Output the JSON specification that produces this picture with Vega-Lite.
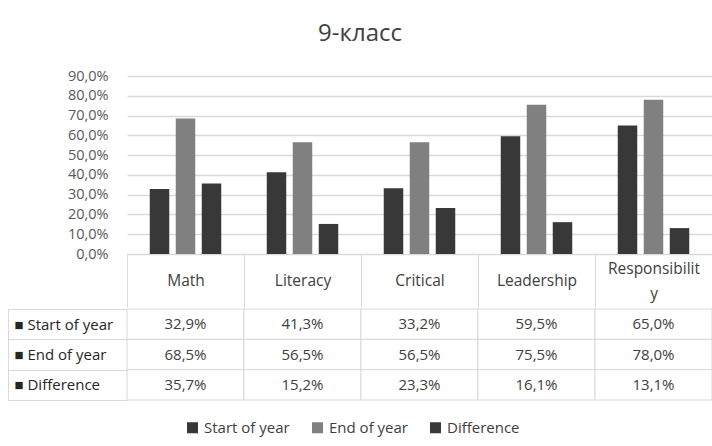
{
  "$schema": "https://vega.github.io/schema/vega-lite/v6.json",
  "padding": {"left": 7, "top": 22, "right": 1, "bottom": 5},
  "title": {"text": "9-класс", "fontSize": 24, "font": "Open Sans", "fontWeight": "normal", "color": "#404040", "anchor": "middle", "frame": "bounds", "offset": 22},
  "config": {
    "font": "Open Sans",
    "locale": {"number": {"decimal": ",", "thousands": " ", "grouping": [3], "currency": ["", ""]}},
    "view": {"stroke": null}
  },
  "data": {"values": [
    {"category": "Math", "series": "Start of year", "value": 0.329},
    {"category": "Math", "series": "End of year", "value": 0.685},
    {"category": "Math", "series": "Difference", "value": 0.357},
    {"category": "Literacy", "series": "Start of year", "value": 0.413},
    {"category": "Literacy", "series": "End of year", "value": 0.565},
    {"category": "Literacy", "series": "Difference", "value": 0.152},
    {"category": "Critical", "series": "Start of year", "value": 0.332},
    {"category": "Critical", "series": "End of year", "value": 0.565},
    {"category": "Critical", "series": "Difference", "value": 0.233},
    {"category": "Leadership", "series": "Start of year", "value": 0.595},
    {"category": "Leadership", "series": "End of year", "value": 0.755},
    {"category": "Leadership", "series": "Difference", "value": 0.161},
    {"category": "Responsibility", "series": "Start of year", "value": 0.650},
    {"category": "Responsibility", "series": "End of year", "value": 0.780},
    {"category": "Responsibility", "series": "Difference", "value": 0.131}
  ]},
  "spacing": 0,
  "vconcat": [
    {
      "width": 585,
      "height": 178,
      "mark": {"type": "bar"},
      "encoding": {
        "x": {
          "field": "category", "type": "nominal",
          "sort": ["Math", "Literacy", "Critical", "Leadership", "Responsibility"],
          "scale": {"paddingInner": 0, "paddingOuter": 0},
          "axis": {
            "title": null, "orient": "bottom", "tickBand": "extent", "tickSize": 53,
            "tickColor": "#d9d9d9", "tickWidth": 1, "domainColor": "#d9d9d9", "domainWidth": 1,
            "labelPadding": {"condition": {"test": "datum.value == 'Responsibility'", "value": -39}, "value": -26.5},
            "labelFontSize": {"condition": {"test": "isValid(datum.value)", "value": 15.5}, "value": 0},
            "labelBaseline": "middle",
            "labelColor": "#404040", "labelAngle": 0, "labelLineHeight": 25, "labelOverlap": false,
            "labelExpr": "datum.value == 'Responsibility' ? ['Responsibilit', 'y'] : (isValid(datum.value) ? datum.value : '')"
          }
        },
        "xOffset": {
          "field": "series", "type": "nominal",
          "sort": ["Start of year", "End of year", "Difference"],
          "scale": {"paddingInner": 0.25, "paddingOuter": 0.875}
        },
        "y": {
          "field": "value", "type": "quantitative",
          "scale": {"domain": [0, 0.9], "nice": false},
          "axis": {
            "title": null, "values": [0, 0.1, 0.2, 0.3, 0.4, 0.5, 0.6, 0.7, 0.8, 0.9],
            "format": ".1%", "domain": false, "ticks": false, "labelPadding": 19,
            "labelFontSize": 14.5, "labelColor": "#595959", "gridColor": "#d9d9d9", "gridWidth": 1.3
          }
        },
        "color": {
          "field": "series", "type": "nominal",
          "sort": ["Start of year", "End of year", "Difference"],
          "scale": {"domain": ["Start of year", "End of year", "Difference"], "range": ["#383838", "#808080", "#383838"]},
          "legend": {
            "title": null, "orient": "none", "legendX": 58, "legendY": 344, "direction": "horizontal", "symbolType": "square",
            "symbolSize": 121, "symbolStrokeWidth": 0, "labelFontSize": 15, "labelColor": "#404040",
            "columnPadding": 20, "labelOffset": 4
          }
        }
      }
    },
    {
      "width": 585,
      "height": 91,
      "encoding": {
        "x": {
          "field": "category", "type": "nominal",
          "sort": ["Math", "Literacy", "Critical", "Leadership", "Responsibility"],
          "scale": {"paddingInner": 0, "paddingOuter": 0},
          "axis": null
        },
        "y": {
          "field": "series", "type": "nominal",
          "sort": ["Start of year", "End of year", "Difference"],
          "scale": {"paddingInner": 0, "paddingOuter": 0},
          "axis": {
            "title": null, "orient": "left", "offset": 119, "tickBand": "extent", "tickSize": -119,
            "tickColor": "#d9d9d9", "domainColor": "#d9d9d9", "labelAlign": "left", "labelPadding": 113,
            "labelExpr": "isValid(datum.value) ? '■ ' + datum.value : ''",
            "labelFontSize": {"condition": {"test": "isValid(datum.value)", "value": 15}, "value": 0},
            "labelColor": "#262626", "labelBaseline": "middle"
          }
        }
      },
      "layer": [
        {"mark": {"type": "rect", "fill": "white", "stroke": "#d9d9d9", "strokeWidth": 1}},
        {
          "mark": {"type": "text", "align": "center", "baseline": "middle", "fontSize": 15, "color": "#404040"},
          "encoding": {"text": {"field": "value", "type": "quantitative", "format": ".1%"}}
        }
      ]
    }
  ]
}
